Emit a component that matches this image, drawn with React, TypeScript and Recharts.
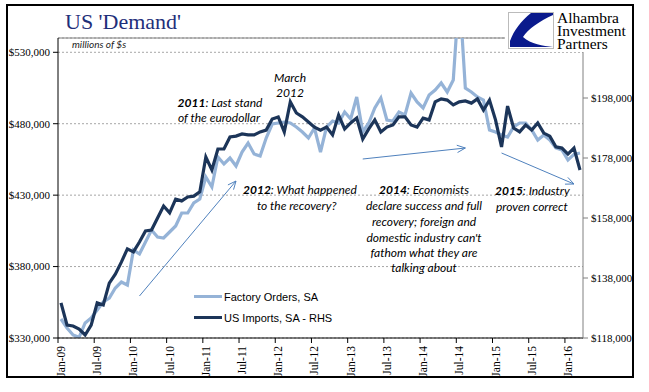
import { LineChart, Line, XAxis, YAxis, CartesianGrid, ReferenceLine, Legend } from 'recharts';

// monthly, Jan-09 .. Mar-16
const MONTH_NAMES = ['Jan', 'Feb', 'Mar', 'Apr', 'May', 'Jun', 'Jul', 'Aug', 'Sep', 'Oct', 'Nov', 'Dec'];
const YEARS = ['09', '10', '11', '12', '13', '14', '15', '16'];
const categories: string[] = YEARS.flatMap((yr) => MONTH_NAMES.map((m) => `${m}-${yr}`)).slice(0, 87);

// Factory Orders, SA (millions of $, left axis)
const factoryOrders = [
  343300, 337000, 332100, 330500, 340500, 344000, 349600, 355200, 358000, 365000, 369200, 367100,
  391600, 388800, 397200, 405600, 400700, 400000, 404200, 408400, 417500, 417500, 424500, 427300,
  442700, 435700, 456700, 451800, 456000, 450400, 460200, 466500, 458800, 457400, 470000, 479800,
  480500, 481200, 480500, 477700, 474200, 470000, 477000, 460200, 477700, 481900, 480500, 488200,
  483300, 498700, 474200, 480500, 491000, 498000, 482600, 481900, 488200, 486100, 501500, 495200,
  491000, 500100, 503600, 508500, 502200, 510600, 573000, 505000, 502200, 498700, 496600, 475600,
  474200, 472100, 470700, 477700, 480500, 480500, 475600, 468600, 472100, 468600, 463000, 461600,
  454600, 458500, 459500,
];

// US Imports, SA (right axis)
const usImports = [
  129700, 122300, 122000, 121000, 119000, 122300, 129700, 129000, 136300, 139300, 143300, 147700,
  146700, 150000, 153700, 154000, 158000, 162000, 159700, 164300, 163700, 165000, 165300, 166700,
  178300, 174000, 181000, 181000, 185000, 185300, 186000, 185700, 185700, 186700, 187300, 191000,
  191700, 186700, 196700, 193000, 191700, 190000, 188300, 187300, 188300, 185700, 192300, 187700,
  189700, 191300, 184300, 187700, 190700, 186700, 188300, 189000, 191700, 191700, 189000, 188300,
  191300, 190700, 196700, 197700, 197300, 195700, 196700, 197000, 196300, 197700, 194000, 197300,
  190700, 181700, 195300, 188000, 186700, 189000, 187300, 189700, 186300, 185300, 181700, 181300,
  179300, 181300, 174000,
];

const leftTicks = [330000, 380000, 430000, 480000, 530000];
const rightTicks = [118000, 138000, 158000, 178000, 198000];

// annotation arrows, in data terms
const arrows = [
  { from: ['Feb-10', 359400], to: ['Jun-11', 439900] },
  { from: ['Mar-13', 455300], to: ['Aug-14', 463000] },
  { from: ['Feb-15', 459500], to: ['Feb-16', 437800] },
];

const chartData = categories.map((month, i) => ({
  month,
  orders: factoryOrders[i],
  imports: usImports[i],
}));

const SERIF = '"Liberation Serif", "Times New Roman", serif';
const NOTE = 'Lato, "Open Sans", sans-serif';
const LIGHT = '#95B3D7';
const DARK = '#1C3559';
const ARROW = '#4F81BD';

const money = (v: number) => '$' + v.toLocaleString('en-US');

const MonthTick = (props: any) => {
  const { x, y, payload } = props;
  return (
    <g>
      <line x1={x - 3} y1={y - 8} x2={x - 3} y2={y - 3} stroke="#000" />
      <text
        x={x}
        y={y}
        transform={`rotate(-90 ${x} ${y})`}
        textAnchor="end"
        dy="0.35em"
        fontFamily={SERIF}
        fontSize={11.5}
        fill="#000"
      >
        {payload.value}
      </text>
    </g>
  );
};

const ArrowShape = (props: any) => {
  const { x1, y1, x2, y2 } = props;
  const ang = Math.atan2(y2 - y1, x2 - x1);
  const len = 9;
  const spread = 0.42;
  const a = [x2 - len * Math.cos(ang - spread), y2 - len * Math.sin(ang - spread)];
  const b = [x2 - len * Math.cos(ang + spread), y2 - len * Math.sin(ang + spread)];
  return (
    <g>
      <line x1={x1} y1={y1} x2={x2} y2={y2} stroke={ARROW} strokeWidth={1} />
      <polyline points={`${a[0]},${a[1]} ${x2},${y2} ${b[0]},${b[1]}`} fill="none" stroke={ARROW} strokeWidth={1} />
    </g>
  );
};

const renderLegend = (props: any) => {
  const { payload } = props;
  return (
    <div style={{ fontFamily: '"Liberation Sans", Arial, sans-serif', fontSize: 11, color: '#000' }}>
      {payload.map((p: any) => (
        <div key={p.value} style={{ display: 'flex', alignItems: 'center', height: 21 }}>
          <span style={{ display: 'inline-block', width: 28, height: 3, background: p.color, marginRight: 2 }} />
          <span>{p.value}</span>
        </div>
      ))}
    </div>
  );
};

type Note = { x: number; y: number; anchor: 'middle' | 'start'; bold?: string; text: string };
const notes: Note[] = [
  { x: 290, y: 77, anchor: 'middle', text: 'March' },
  { x: 290, y: 92, anchor: 'middle', text: '2012' },
  { x: 220, y: 102, anchor: 'middle', bold: '2011', text: ': Last stand' },
  { x: 219, y: 117, anchor: 'middle', text: 'of the eurodollar' },
  { x: 243, y: 189, anchor: 'start', bold: '2012', text: ': What happened' },
  { x: 257, y: 205, anchor: 'start', text: 'to the recovery?' },
  { x: 424, y: 189, anchor: 'middle', bold: '2014', text: ': Economists' },
  { x: 424, y: 205, anchor: 'middle', text: 'declare success and full' },
  { x: 424, y: 221, anchor: 'middle', text: 'recovery; foreign and' },
  { x: 424, y: 237, anchor: 'middle', text: "domestic industry can't" },
  { x: 424, y: 252, anchor: 'middle', text: 'fathom what they are' },
  { x: 424, y: 267, anchor: 'middle', text: 'talking about' },
  { x: 495, y: 190, anchor: 'start', bold: '2015', text: ': Industry' },
  { x: 496, y: 206, anchor: 'start', text: 'proven correct' },
];

export default function App() {
  return (
    <div style={{ position: 'absolute', left: 0, top: 0, width: 649, height: 392, background: '#fff' }}>
      <LineChart width={649} height={392} data={chartData} margin={{ top: 38, right: 0, bottom: 0, left: 0 }}>
        <CartesianGrid yAxisId="left" vertical={false} stroke="#a6a6a6" strokeDasharray="2 2" />
        <XAxis
          dataKey="month"
          interval={5}
          height={54}
          padding={{ left: 3, right: 3 }}
          axisLine={{ stroke: '#000' }}
          tickLine={false}
          tickSize={5}
          tickMargin={3}
          tick={<MonthTick />}
        />
        <YAxis
          yAxisId="left"
          width={58}
          domain={[330000, 540000]}
          ticks={leftTicks}
          allowDataOverflow
          tickFormatter={money}
          axisLine={{ stroke: '#000' }}
          tickLine={{ stroke: '#000' }}
          tickSize={5}
          tickMargin={3}
          tick={{ fontFamily: SERIF, fontSize: 11, fill: '#000' }}
        />
        <YAxis
          yAxisId="right"
          orientation="right"
          width={66}
          domain={[118000, 218000]}
          ticks={rightTicks}
          allowDataOverflow
          tickFormatter={money}
          axisLine={{ stroke: '#808080' }}
          tickLine={{ stroke: '#808080' }}
          tickSize={5}
          tickMargin={3}
          tick={{ fontFamily: SERIF, fontSize: 11, fill: '#000' }}
        />
        <ReferenceLine yAxisId="left" y={540000} stroke="#7f7f7f" />
        <Legend
          layout="horizontal"
          verticalAlign="middle"
          align="center"
          content={renderLegend}
          wrapperStyle={{ left: 194, top: 286, width: 170, height: 44 }}
        />
        <Line
          yAxisId="left"
          dataKey="orders"
          name="Factory Orders, SA"
          stroke={LIGHT}
          strokeWidth={3.2}
          dot={false}
          isAnimationActive={false}
        />
        <Line
          yAxisId="right"
          dataKey="imports"
          name="US Imports, SA - RHS"
          stroke={DARK}
          strokeWidth={3.2}
          dot={false}
          isAnimationActive={false}
        />
        {arrows.map((a, i) => (
          <ReferenceLine
            key={i}
            yAxisId="left"
            segment={[
              { x: a.from[0], y: a.from[1] },
              { x: a.to[0], y: a.to[1] },
            ]}
            shape={ArrowShape}
          />
        ))}
      </LineChart>

      <svg width={649} height={392} style={{ position: 'absolute', left: 0, top: 0, pointerEvents: 'none' }}>
        <rect x={7} y={5} width={626} height={372} fill="none" stroke="#000" strokeWidth={2} />
        <text x={65} y={29} fontFamily={SERIF} fontSize={22} fill="#1F2F7A">
          US 'Demand'
        </text>
        <text x={72} y={48} fontFamily={NOTE} fontStyle="italic" fontSize={10} fill="#222">
          millions of $s
        </text>
        {notes.map((n, i) => (
          <text
            key={i}
            x={n.x}
            y={n.y}
            textAnchor={n.anchor}
            dominantBaseline="central"
            fontFamily={NOTE}
            fontStyle="italic"
            fontSize={12}
            fill="#000"
          >
            {n.bold && <tspan fontWeight="bold">{n.bold}</tspan>}
            {n.text}
          </text>
        ))}
        {/* logo */}
        <rect x={505} y={8} width={127} height={44} fill="#fff" />
        <rect x={508.5} y={12.5} width={45} height={36} fill="#fff" stroke="#bbb" />
        <path
          d="M531,13 L553,13 L553,15 C540,21 528,29 523,37 C531,44 543,46 553,47 L510,47 L510,41 C514,30 521,21 531,13 Z"
          fill="#0a1a8c"
        />
        <g fontFamily={SERIF} fontSize={15.5} fill="#000">
          <text x={557} y={23}>Alhambra</text>
          <text x={557} y={36}>Investment</text>
          <text x={557} y={49}>Partners</text>
        </g>
      </svg>
    </div>
  );
}
